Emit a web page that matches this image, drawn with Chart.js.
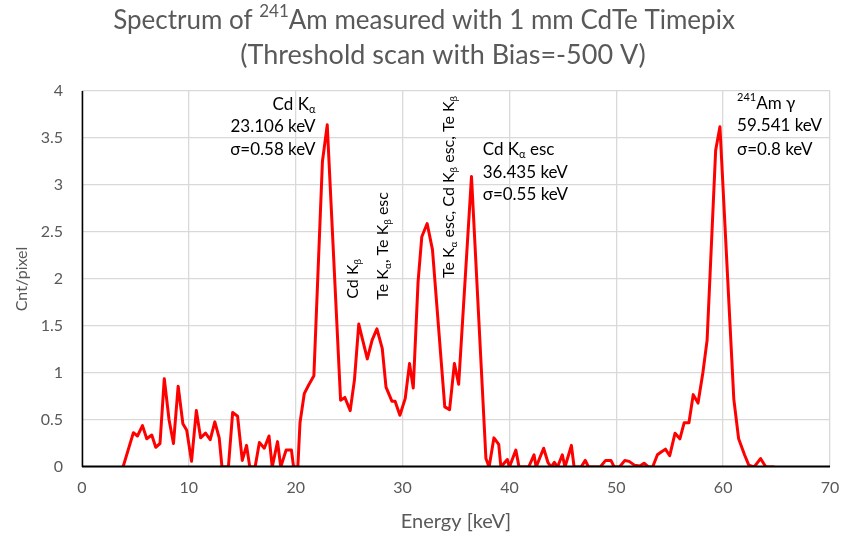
<!DOCTYPE html>
<html>
<head>
<meta charset="utf-8">
<script src="https://cdn.jsdelivr.net/npm/chart.js@4.4.0/dist/chart.umd.min.js"></script>
<style>
  html, body { margin: 0; padding: 0; background: #fff; }
  #wrap { width: 844px; height: 538px; }
</style>
</head>
<body>
<div id="wrap"><canvas id="spectrumChart"></canvas></div>
<script>
// Energy [keV] of each threshold step
const energies = [
  3.84, 4.81, 5.19, 5.66, 6.06, 6.53, 6.9, 7.3, 7.7, 8.15, 8.56, 9.0, 9.44, 9.8,
  10.25, 10.7, 11.1, 11.56, 12.0, 12.43, 12.84, 13.1, 13.7, 14.1, 14.56, 15.0, 15.4,
  15.7, 16.2, 16.6, 17.06, 17.5, 17.8, 18.3, 18.6, 19.1, 19.6, 19.8, 20.2, 20.4,
  20.8, 21.2, 21.7, 22.5, 22.95, 24.2, 24.6, 25.1, 25.5, 25.9, 26.7, 27.15, 27.6,
  28.1, 28.45, 29.0, 29.3, 29.75, 30.25, 30.65, 31.0, 31.45, 31.8, 32.3, 32.8,
  33.95, 34.4, 34.85, 35.25, 36.45, 37.8, 38.1, 38.55, 39.0, 39.2, 39.8, 40.0,
  40.6, 40.9, 41.8, 42.3, 42.5, 43.2, 43.6, 43.9, 44.2, 44.5, 44.95, 45.2, 45.8,
  46.05, 46.7, 47.1, 47.4, 48.5, 49.0, 49.5, 49.8, 50.3, 50.8, 51.2, 51.7, 52.2,
  52.6, 53.0, 53.4, 53.85, 54.2, 54.6, 55.0, 55.5, 55.95, 56.35, 56.8, 57.2, 57.65,
  58.1, 58.5, 59.3, 59.7, 61.0, 61.45, 62.0, 62.4, 62.9, 63.5, 64.0, 64.8
];
// Cnt/pixel
const counts = [
  0, 0.365, 0.33, 0.44, 0.30, 0.34, 0.21, 0.25, 0.94, 0.50, 0.25, 0.86, 0.46, 0.39,
  0.06, 0.60, 0.31, 0.36, 0.29, 0.48, 0.31, 0, 0, 0.58, 0.54, 0.07, 0.23,
  0, 0, 0.26, 0.20, 0.33, 0, 0.27, 0, 0.18, 0.18, 0, 0, 0.47,
  0.78, 0.87, 0.97, 3.25, 3.64, 0.71, 0.74, 0.60, 0.93, 1.52, 1.15, 1.35, 1.47,
  1.26, 0.85, 0.70, 0.70, 0.55, 0.73, 1.10, 0.84, 1.97, 2.45, 2.59, 2.31,
  0.64, 0.61, 1.10, 0.88, 3.09, 0.09, 0, 0.31, 0.24, 0, 0.08, 0,
  0.18, 0, 0, 0.13, 0, 0.20, 0.05, 0, 0.05, 0, 0.13, 0, 0.23,
  0, 0, 0.07, 0, 0, 0.07, 0.07, 0, 0, 0.07, 0.06, 0.02, 0.01,
  0.04, 0, 0, 0.13, 0.16, 0.19, 0.12, 0.36, 0.30, 0.47, 0.47, 0.77, 0.68,
  1.0, 1.35, 3.37, 3.62, 0.72, 0.30, 0.13, 0.02, 0, 0.09, 0, 0
];

const xTicks = [0, 10, 20, 30, 40, 50, 60, 70];
const yTicks = [0, 0.5, 1, 1.5, 2, 2.5, 3, 3.5, 4];

const FONT = 'Lato, "Open Sans", sans-serif';
const GREY = '#595959';

// parts: [text, 'sub' | 'sup' | undefined]
function drawRich(ctx, parts, x, y, size, align) {
  const fontOf = p => (p[1] ? Math.round(size * 0.65) : size) + 'px ' + FONT;
  let w = 0;
  parts.forEach(p => { ctx.font = fontOf(p); w += ctx.measureText(p[0]).width; });
  let cx = align === 'right' ? x - w : align === 'center' ? x - w / 2 : x;
  ctx.textAlign = 'left';
  ctx.textBaseline = 'middle';
  parts.forEach(p => {
    ctx.font = fontOf(p);
    const dy = p[1] === 'sub' ? size * 0.3 : p[1] === 'sup' ? -size * 0.35 : 0;
    ctx.fillText(p[0], cx, y + dy);
    cx += ctx.measureText(p[0]).width;
  });
}

// Peak labels, anchored in data units (keV, Cnt/pixel)
const blockLabels = [
  { x: 21.85, y: [3.86, 3.62, 3.38], align: 'right',
    lines: [[['Cd K'], ['α', 'sub']], [['23.106 keV']], [['σ=0.58 keV']]] },
  { x: 37.5, y: [3.38, 3.13, 2.9], align: 'left',
    lines: [[['Cd K'], ['α', 'sub'], [' esc']], [['36.435 keV']], [['σ=0.55 keV']]] },
  { x: 61.3, y: [3.87, 3.63, 3.38], align: 'left',
    lines: [[['241', 'sup'], ['Am γ']], [['59.541 keV']], [['σ=0.8 keV']]] }
];
const rotatedLabels = [
  { x: 25.36, y: 1.79, parts: [['Cd K'], ['β', 'sub']] },
  { x: 28.17, y: 1.78, parts: [['Te K'], ['α', 'sub'], [', Te K'], ['β', 'sub'], [' esc']] },
  { x: 34.34, y: 2.01, parts: [['Te K'], ['α', 'sub'], [' esc, Cd K'], ['β', 'sub'], [' esc, Te K'], ['β', 'sub']] }
];

const decorations = {
  id: 'decorations',
  afterDatasetsDraw(chart) {
    const ctx = chart.ctx;
    const xs = chart.scales.x, ys = chart.scales.y;
    const area = chart.chartArea;
    ctx.save();

    // axis lines on top of the series
    ctx.strokeStyle = '#000';
    ctx.lineWidth = 2;
    ctx.beginPath();
    ctx.moveTo(area.left, area.bottom - 0.5);
    ctx.lineTo(area.right, area.bottom - 0.5);
    ctx.stroke();
    ctx.lineWidth = 1.5;
    ctx.beginPath();
    ctx.moveTo(area.left + 0.5, area.top);
    ctx.lineTo(area.left + 0.5, area.bottom);
    ctx.stroke();

    // title
    ctx.fillStyle = GREY;
    drawRich(ctx, [['Spectrum of '], ['241', 'sup'], ['Am measured with 1 mm CdTe Timepix']], 424, 21, 26, 'center');
    drawRich(ctx, [['(Threshold scan with Bias=-500 V)']], 443, 55, 27, 'center');

    // peak labels
    ctx.fillStyle = '#000';
    blockLabels.forEach(b => {
      b.lines.forEach((ln, i) => drawRich(ctx, ln, xs.getPixelForValue(b.x), ys.getPixelForValue(b.y[i]), 17, b.align));
    });
    rotatedLabels.forEach(r => {
      ctx.save();
      ctx.translate(xs.getPixelForValue(r.x), ys.getPixelForValue(r.y));
      ctx.rotate(-Math.PI / 2);
      drawRich(ctx, r.parts, 0, 0, 16, 'left');
      ctx.restore();
    });
    ctx.restore();
  }
};

new Chart(document.getElementById('spectrumChart'), {
  type: 'scatter',
  data: {
    datasets: [{
      data: energies.map((e, i) => ({ x: e, y: counts[i] })),
      showLine: true,
      borderColor: '#ff0000',
      borderWidth: 3,
      borderJoinStyle: 'round',
      pointRadius: 0,
      tension: 0,
      clip: 0
    }]
  },
  options: {
    responsive: true,
    maintainAspectRatio: false,
    animation: false,
    layout: { padding: { top: 91, right: 14, left: 0, bottom: 0 } },
    plugins: {
      legend: { display: false },
      tooltip: { enabled: false },
      title: { display: false }
    },
    scales: {
      x: {
        type: 'linear',
        min: 0,
        max: 70,
        afterBuildTicks: s => { s.ticks = xTicks.map(v => ({ value: v })); },
        afterFit: s => { s.height = 71; s.paddingLeft = 0; s.paddingRight = 0; },
        grid: { color: '#d9d9d9', lineWidth: 1.3, drawTicks: false },
        border: { display: false },
        ticks: { color: GREY, font: { family: FONT, size: 16 }, padding: 11, maxRotation: 0 },
        title: { display: true, text: 'Energy [keV]', color: GREY, font: { family: FONT, size: 20 }, padding: { bottom: 4, top: 0 } }
      },
      y: {
        min: 0,
        max: 4,
        afterBuildTicks: s => { s.ticks = yTicks.map(v => ({ value: v })); },
        afterFit: s => { s.width = 82; s.paddingTop = 0; s.paddingBottom = 0; },
        grid: { color: '#d9d9d9', lineWidth: 1.3, drawTicks: false },
        border: { display: false },
        ticks: { color: GREY, font: { family: FONT, size: 16 }, padding: 19, callback: v => String(v) },
        title: { display: true, text: 'Cnt/pixel', color: GREY, font: { family: FONT, size: 16 }, padding: { top: 12, bottom: 0 } }
      }
    }
  },
  plugins: [decorations]
});
</script>
</body>
</html>
